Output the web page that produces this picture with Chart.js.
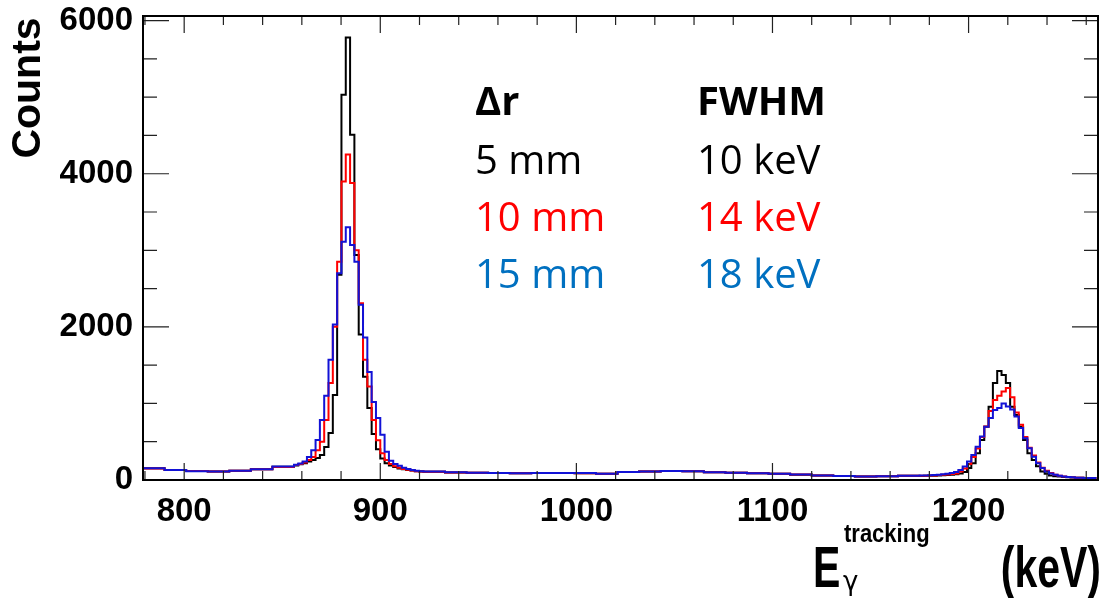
<!DOCTYPE html>
<html lang="en">
<head>
  <meta charset="UTF-8">
  <title>E gamma tracking spectrum</title>
  <style>
    body {
      margin: 0;
      background: #ffffff;
    }
    #wrap {
      width: 1104px;
      height: 598px;
    }
  </style>
</head>
<body>
  <div id="wrap">
    <canvas id="spectrum" width="1104" height="598"></canvas>
  </div>

  <script src="https://cdn.jsdelivr.net/npm/chart.js"></script>
  <script>
    // bin edges in keV (fine 2.2 keV bins on the peaks, 11 keV bins on the flat background)
    const binEdges = [
      779, 790, 801, 812, 823, 834, 845, 856,
      858.2, 860.4, 862.6, 864.8, 867, 869.2, 871.4, 873.6, 875.8, 878,
      880.2, 882.4, 884.6, 886.8, 889, 891.2, 893.4, 895.6, 897.8, 900,
      902.2, 904.4, 906.6, 908.8, 911, 913.2, 915.4, 917.6, 919.8, 922,
      933, 944, 955, 966, 977, 988, 999, 1010, 1021, 1032, 1043, 1054,
      1065, 1076, 1087, 1098, 1109, 1120, 1131, 1142, 1153, 1164, 1175,
      1177.2, 1179.4, 1181.6, 1183.8, 1186, 1188.2, 1190.4, 1192.6, 1194.8, 1197,
      1199.2, 1201.4, 1203.6, 1205.8, 1208, 1210.2, 1212.4, 1214.6, 1216.8, 1219,
      1221.2, 1223.4, 1225.6, 1227.8, 1230, 1232.2, 1234.4, 1236.6, 1238.8, 1241,
      1243.2, 1245.4, 1247.6, 1249.8, 1252, 1254.2, 1256.4, 1258.6, 1260.8, 1263,
      1265.2
    ];

    // counts per bin, dr = 5 mm
    const counts5mm = [
      152, 132, 116, 110, 122, 142, 172,
      190, 205, 220, 240, 260, 287, 327, 430, 614, 1110,
      2680, 5030, 5780, 4510, 2940, 1900, 1350, 940, 600, 400,
      280, 220, 190, 170, 150, 140, 130, 125, 115, 110,
      108, 98, 94, 90, 88, 90, 93, 88, 82, 104, 110, 117,
      114, 100, 95, 88, 80, 70, 60, 52, 46, 48, 55,
      52, 54, 55, 57, 60, 62, 65, 70, 75, 85,
      105, 157, 220, 350, 523, 697, 958, 1268, 1425, 1372,
      1268, 958, 850, 697, 523, 350, 260, 180, 110, 80,
      60, 50, 45, 40, 35, 32, 30, 28, 25, 25,
      25
    ];

    // counts per bin, dr = 10 mm
    const counts10mm = [
      150, 130, 117, 111, 120, 140, 170,
      195, 210, 230, 260, 300, 390, 500, 785, 1268, 2000,
      2850, 3900, 4250, 3880, 3000, 2310, 1570, 1220, 785, 520,
      350, 260, 210, 180, 160, 145, 135, 125, 115, 110,
      108, 99, 95, 90, 87, 91, 92, 89, 80, 105, 111, 118,
      115, 101, 95, 87, 80, 72, 60, 51, 46, 48, 56,
      55, 57, 58, 60, 64, 68, 72, 78, 85, 110,
      150, 210, 300, 410, 560, 700, 900, 1045, 1100, 1155,
      1200, 1080, 880, 720, 560, 420, 320, 230, 160, 120,
      90, 70, 55, 45, 40, 35, 30, 28, 25, 25,
      25
    ];

    // counts per bin, dr = 15 mm
    const counts15mm = [
      155, 130, 115, 110, 121, 141, 175,
      200, 215, 240, 300, 390, 523, 785, 1100, 1570, 2030,
      2700, 3110, 3300, 3070, 2850, 2290, 1860, 1410, 1020, 810,
      590, 370, 250, 210, 185, 160, 145, 130, 120, 115,
      110, 100, 95, 90, 88, 90, 93, 90, 80, 106, 110, 118,
      115, 100, 96, 88, 80, 72, 60, 52, 46, 49, 56,
      58, 60, 62, 65, 70, 75, 80, 90, 105, 130,
      175, 240, 327, 435, 567, 697, 810, 915, 940, 1000,
      960, 920, 830, 680, 545, 415, 305, 220, 157, 110,
      85, 70, 55, 45, 40, 35, 30, 28, 25, 25,
      25
    ];

    const xTickLabels = [800, 900, 1000, 1100, 1200];
    const yTickLabels = [0, 2000, 4000, 6000];

    const legendRows = [
      { dr: '5 mm', fwhm: '10 keV', color: '#000000' },
      { dr: '10 mm', fwhm: '14 keV', color: '#ff0000' },
      { dr: '15 mm', fwhm: '18 keV', color: '#0070c0' }
    ];

    // histogram as step line: one point per left edge + closing point at the last edge
    function histPoints(counts) {
      const pts = counts.map((c, i) => ({ x: binEdges[i], y: c }));
      pts.push({ x: binEdges[binEdges.length - 1], y: counts[counts.length - 1] });
      return pts;
    }

    const tickFont = { family: 'Liberation Sans', weight: 'bold', size: 33 };

    // frame, ROOT style ticks on all four sides, titles and the text box
    const decorations = {
      id: 'decorations',
      afterDraw(chart) {
        const ctx = chart.ctx;
        const area = chart.chartArea;
        const xs = chart.scales.x;
        const ys = chart.scales.y;

        ctx.save();
        ctx.strokeStyle = '#222';
        ctx.lineWidth = 1.2;
        ctx.beginPath();
        for (let v = 780; v <= 1266; v += 20) {
          const px = xs.getPixelForValue(v);
          const len = v % 100 === 0 ? 17 : 9;
          ctx.moveTo(px, area.bottom);
          ctx.lineTo(px, area.bottom - len);
          ctx.moveTo(px, area.top);
          ctx.lineTo(px, area.top + len);
        }
        for (let v = 0; v <= 6000; v += 500) {
          const py = ys.getPixelForValue(v);
          const len = v % 2000 === 0 ? 26 : 14;
          ctx.moveTo(area.left, py);
          ctx.lineTo(area.left + len, py);
          ctx.moveTo(area.right, py);
          ctx.lineTo(area.right - len, py);
        }
        ctx.stroke();

        ctx.lineWidth = 2;
        ctx.strokeStyle = '#000';
        ctx.strokeRect(area.left, area.top, area.right - area.left, area.bottom - area.top);

        // y title
        ctx.fillStyle = '#000';
        ctx.save();
        ctx.translate(29, 88);
        ctx.rotate(-Math.PI / 2);
        ctx.font = 'bold 41px "Liberation Sans"';
        ctx.textAlign = 'center';
        ctx.textBaseline = 'middle';
        ctx.fillText('Counts', 0, 0);
        ctx.restore();

        // x title: E_gamma^tracking (keV)
        ctx.textBaseline = 'alphabetic';
        ctx.textAlign = 'left';
        ctx.save();
        ctx.translate(813, 587);
        ctx.scale(1, 1.4);
        ctx.font = 'bold 41px "Liberation Sans"';
        ctx.fillText('E', 0, 0);
        ctx.restore();

        ctx.save();
        ctx.translate(844, 542);
        ctx.scale(1, 1.2);
        ctx.font = 'bold 22px "Liberation Sans"';
        ctx.fillText('tracking', 0, 0);
        ctx.restore();

        ctx.font = '26px "DejaVu Sans"';
        ctx.fillText('\u03b3', 843, 590);

        ctx.save();
        ctx.translate(1101, 587);
        ctx.scale(1, 1.4);
        ctx.font = 'bold 41px "Liberation Sans"';
        ctx.textAlign = 'right';
        ctx.fillText('(keV)', 0, 0);
        ctx.restore();

        // text box
        ctx.font = 'bold 40px "Open Sans"';
        ctx.fillStyle = '#000';
        ctx.fillText('\u0394r', 475, 115);
        ctx.fillText('FWHM', 697, 115);
        ctx.font = '40px "Open Sans"';
        legendRows.forEach((row, i) => {
          const y = 174 + i * 57;
          ctx.fillStyle = row.color;
          ctx.fillText(row.dr, 475, y);
          ctx.fillText(row.fwhm, 697, y);
        });

        ctx.restore();
      }
    };

    new Chart(document.getElementById('spectrum'), {
      type: 'line',
      data: {
        datasets: [
          {
            label: '15 mm',
            data: histPoints(counts15mm),
            borderColor: '#1212d6',
            borderWidth: 2,
            stepped: 'before',
            pointRadius: 0,
            fill: false,
            order: 0
          },
          {
            label: '10 mm',
            data: histPoints(counts10mm),
            borderColor: '#ff0000',
            borderWidth: 2,
            stepped: 'before',
            pointRadius: 0,
            fill: false,
            order: 1
          },
          {
            label: '5 mm',
            data: histPoints(counts5mm),
            borderColor: '#000000',
            borderWidth: 2,
            stepped: 'before',
            pointRadius: 0,
            fill: false,
            order: 2
          }
        ]
      },
      options: {
        responsive: false,
        animation: false,
        layout: { padding: { top: 16, right: 6, left: 0, bottom: 0 } },
        plugins: {
          legend: { display: false },
          tooltip: { enabled: false }
        },
        scales: {
          x: {
            type: 'linear',
            min: 779,
            max: 1266,
            grid: { display: false, drawTicks: false },
            border: { display: false },
            afterFit: (s) => {
              s.height = 118;
              s.paddingLeft = 0;
              s.paddingRight = 0;
            },
            afterBuildTicks: (s) => { s.ticks = xTickLabels.map(v => ({ value: v })); },
            ticks: {
              font: tickFont,
              color: '#000',
              padding: 12,
              maxRotation: 0,
              autoSkip: false,
              callback: (v) => String(v)
            }
          },
          y: {
            type: 'linear',
            min: 0,
            max: 6060,
            grid: { display: false, drawTicks: false },
            border: { display: false },
            afterFit: (s) => {
              s.width = 143;
              s.paddingTop = 0;
              s.paddingBottom = 0;
            },
            afterBuildTicks: (s) => { s.ticks = yTickLabels.map(v => ({ value: v })); },
            ticks: {
              font: tickFont,
              color: '#000',
              padding: 10,
              autoSkip: false,
              callback: (v) => String(v)
            }
          }
        }
      },
      plugins: [decorations]
    });
  </script>
</body>
</html>
